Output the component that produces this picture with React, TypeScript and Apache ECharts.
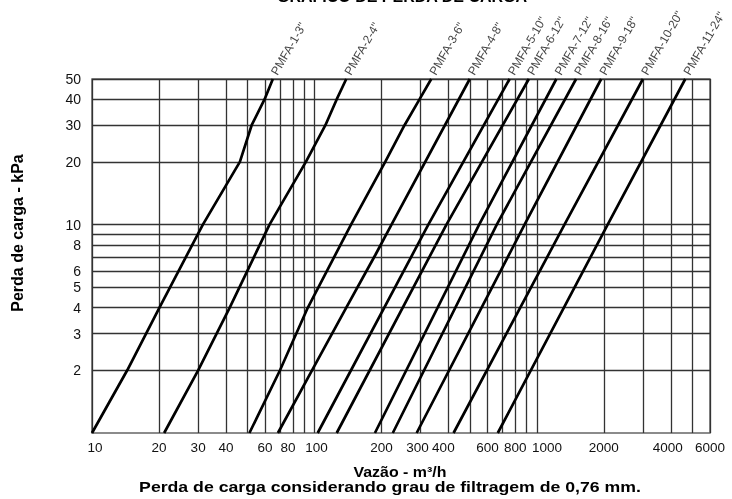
import React, { useEffect, useRef } from "react";
import * as echarts from "echarts";

const FONT = '"Liberation Sans", Arial, Helvetica, sans-serif';

// Axis ranges
const flowMin = 10;
const flowMax = 6000;
const lossMin = 1;
const lossMax = 50;

// Grid lines (log decades)
const flowGridLines = [20, 30, 40, 50, 60, 70, 80, 90, 100, 200, 300, 400, 500, 600, 700, 800, 900, 1000, 2000, 3000, 4000, 5000];
const lossGridLines = [2, 3, 4, 5, 6, 7, 8, 9, 10, 20, 30, 40];

// Tick labels
const flowTickLabels = [10, 20, 30, 40, 60, 80, 100, 200, 300, 400, 600, 800, 1000, 2000, 4000, 6000];
const lossTickLabels = [2, 3, 4, 5, 6, 8, 10, 20, 30, 40, 50];

// Curves: [flow m3/h, loss kPa]
const pmfa1 = [[10, 1], [14.4, 2], [20.1, 4], [31.5, 10], [46.2, 20], [52.2, 30], [59.7, 40], [65, 50]];
const pmfa2 = [[21.1, 1], [30, 2], [41.6, 4], [62.8, 10], [91.5, 20], [112, 30], [126, 40], [139, 50]];
const pmfa3 = [[51, 1], [70, 2], [93.4, 4], [146, 10], [208, 20], [254, 30], [297, 40], [335, 50]];
const pmfa4 = [[68.5, 1], [97.5, 2], [139, 4], [188, 7.17], [222, 10], [499, 50]];
const pmfa5 = [[103.4, 1], [325, 10], [754, 50]];
const pmfa6 = [[125.9, 1], [392, 10], [920, 50]];
const pmfa7 = [[187, 1], [550, 10], [1223, 50]];
const pmfa8 = [[225, 1], [660, 10], [1500, 50]];
const pmfa9 = [[288, 1], [880, 10], [1945, 50]];
const pmfa10 = [[422, 1], [1330, 10], [2996, 50]];
const pmfa11 = [[667, 1], [2080, 10], [4645, 50]];

const seriesNames = [
  'PMFA-1-3"', 'PMFA-2-4"', 'PMFA-3-6"', 'PMFA-4-8"', 'PMFA-5-10"', 'PMFA-6-12"',
  'PMFA-7-12"', 'PMFA-8-16"', 'PMFA-9-18"', 'PMFA-10-20"', 'PMFA-11-24"',
];
const curves = [pmfa1, pmfa2, pmfa3, pmfa4, pmfa5, pmfa6, pmfa7, pmfa8, pmfa9, pmfa10, pmfa11];

const titleText = "GRÁFICO DE PERDA DE CARGA";
const yTitle = "Perda de carga - kPa";
const xTitle = "Vazão - m³/h";
const caption = "Perda de carga considerando grau de filtragem de 0,76 mm.";

// small horizontal nudges of some x tick labels, as in the original drawing (px)
const flowLabelNudge: Record<number, number> = { 10: 3, 80: -5, 100: 2, 300: -3, 400: -5, 1000: 10, 4000: -3 };

export default function App() {
  const ref = useRef<HTMLDivElement>(null);
  useEffect(() => {
    const chart = echarts.init(ref.current!, null, { renderer: "svg" });
    const gridStyle = { color: "#333", width: 1.3, type: "solid" as const };
    const vLines = [flowMin, ...flowGridLines, flowMax].map((v) => ({
      xAxis: v,
      label: {
        show: flowTickLabels.includes(v),
        position: "start",
        distance: 7,
        offset: [flowLabelNudge[v] || 0, 0],
        formatter: String(v),
        fontSize: 13.5,
        fontFamily: FONT,
        color: "#111",
      },
    }));
    const hLines = [...lossGridLines, lossMax].map((v) => ({
      yAxis: v,
      label: {
        show: lossTickLabels.includes(v),
        position: "start",
        distance: 11,
        formatter: String(v),
        fontSize: 14,
        fontFamily: FONT,
        color: "#111",
      },
    }));
    const textStyle = { fontWeight: "bold", fontFamily: FONT, fill: "#000", align: "center", verticalAlign: "middle" };
    const option: any = {
      animation: false,
      grid: {
        left: 92,
        right: 22,
        top: 79,
        bottom: 66,
        show: true,
        borderColor: "#666",
        borderWidth: 1.5,
        backgroundColor: "transparent",
      },
      xAxis: {
        type: "log",
        logBase: 10,
        min: flowMin,
        max: flowMax,
        axisLine: { show: false },
        axisTick: { show: false },
        axisLabel: { show: false },
        splitLine: { show: false },
      },
      yAxis: {
        type: "log",
        logBase: 10,
        min: lossMin,
        max: lossMax,
        axisLine: { show: false },
        axisTick: { show: false },
        axisLabel: { show: false },
        splitLine: { show: false },
      },
      graphic: [
        {
          type: "text",
          x: 402,
          y: -4,
          style: { ...textStyle, text: titleText, fontSize: 16 },
        },
        {
          type: "text",
          x: 17,
          y: 233,
          rotation: Math.PI / 2,
          style: { ...textStyle, text: yTitle, fontSize: 16 },
        },
        {
          type: "text",
          x: 400,
          y: 471.5,
          scaleX: 1.1,
          style: { ...textStyle, text: xTitle, fontSize: 14.5, lineHeight: 14 },
        },
        {
          type: "text",
          x: 390,
          y: 486.5,
          scaleX: 1.22,
          style: { ...textStyle, text: caption, fontSize: 14.5, lineHeight: 14 },
        },
      ],
      series: [
        {
          type: "line",
          name: "grid",
          data: [[flowMin, lossMin]],
          symbol: "none",
          silent: true,
          z: 1,
          markLine: {
            silent: true,
            animation: false,
            symbol: ["none", "none"],
            lineStyle: gridStyle,
            data: [...vLines, ...hLines],
          },
        },
        ...curves.map((c, i) => ({
          type: "line",
          name: seriesNames[i],
          data: c,
          symbol: "none",
          silent: true,
          z: 5,
          lineStyle: { color: "#000", width: 2.7 },
        })),
        {
          type: "scatter",
          name: "labels",
          silent: true,
          z: 6,
          symbolSize: 1,
          itemStyle: { color: "rgba(0,0,0,0)" },
          data: curves.map((c, i) => ({ value: c[c.length - 1], name: seriesNames[i] })),
          label: {
            show: true,
            formatter: "{b}",
            rotate: 60,
            position: [7, -1.5],
            align: "left",
            verticalAlign: "bottom",
            fontSize: 12,
            fontFamily: FONT,
            color: "#111",
          },
        },
      ],
    };
    chart.setOption(option);
    return () => chart.dispose();
  }, []);
  return <div ref={ref} style={{ position: "fixed", left: 0, top: 0, width: 732, height: 499 }} />;
}
